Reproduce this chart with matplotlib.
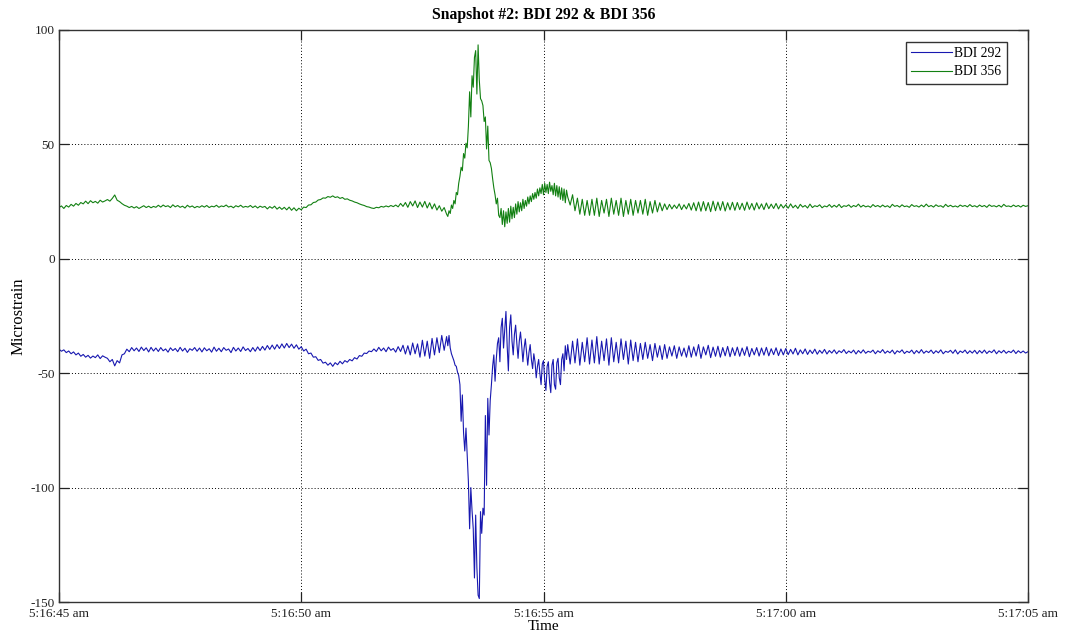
import numpy as np
import matplotlib
matplotlib.use("Agg")
import matplotlib.pyplot as plt

# ---------------- data (seconds after 5:16:45, microstrain) ----------------
# segment A: t = 0 .. 7.95 s, step 0.05 s
bdi356_a = [
    22.4, 23.1, 22.0, 23.3, 22.6, 23.8, 23.0, 24.2, 23.4, 24.6, 24.0, 25.2, 24.1, 25.4, 24.5, 25.1, 24.3, 25.6, 24.8, 25.3,
    25.9, 25.2, 26.4, 27.9, 25.6, 25.0, 24.1, 23.4, 23.0, 22.4, 22.9, 22.2, 22.8, 22.0, 22.6, 23.2, 22.4, 23.0, 22.3, 22.9,
    22.5, 23.4, 22.6, 23.5, 22.8, 23.2, 22.4, 23.6, 22.7, 23.3, 22.5, 23.0, 22.2, 23.4, 22.6, 23.1, 22.3, 22.9, 22.5, 23.2,
    22.6, 23.3, 22.4, 23.0, 22.7, 23.4, 22.5, 23.1, 22.8, 23.5, 22.6, 23.0, 22.3, 23.2, 22.7, 23.4, 22.5, 22.9, 22.6, 23.3,
    22.4, 23.1, 22.2, 23.0, 22.5, 22.9, 21.8, 22.8, 22.1, 23.0, 21.7, 22.6, 21.6, 22.5, 21.4, 22.6, 21.2, 22.3, 21.0, 22.1,
    21.4, 22.6, 22.4, 23.5, 23.6, 24.6, 24.8, 25.7, 25.9, 26.6, 26.5, 27.2, 26.9, 27.5, 26.8, 27.1, 26.4, 26.8, 26.0, 26.2,
    25.6, 25.3, 24.8, 24.5, 24.0, 23.6, 23.3, 22.8, 22.6, 22.2, 22.0, 22.5, 22.3, 22.9, 22.6, 23.1, 22.7, 23.3, 22.8, 23.5,
    22.7, 24.2, 22.9, 24.6, 22.5, 25.0, 23.1, 25.3, 22.4, 24.8, 22.6, 25.1, 22.2, 24.5, 21.8, 24.0, 21.3, 23.2, 20.8, 22.4,
]
bdi292_a = [
    -39.5, -40.4, -39.8, -41.0, -40.3, -41.5, -40.7, -42.0, -41.2, -42.6, -41.8, -43.0, -42.2, -43.4, -42.5, -43.2, -42.0, -43.6, -42.4, -43.0,
    -43.5, -45.0, -44.0, -46.8, -44.5, -45.5, -42.0, -41.5, -39.5, -40.6, -38.8, -40.2, -39.0, -40.5, -38.6, -40.1, -38.9, -40.7, -38.7, -40.3,
    -39.0, -40.5, -38.8, -40.2, -39.4, -40.8, -38.9, -40.1, -39.2, -40.6, -38.7, -40.3, -39.1, -40.9, -39.3, -40.0, -38.8, -40.4, -39.0, -40.7,
    -38.9, -40.2, -39.3, -40.8, -38.6, -40.4, -39.1, -40.6, -38.8, -40.0, -39.4, -41.0, -38.7, -40.3, -39.0, -40.5, -38.5, -40.1, -39.2, -40.6,
    -38.8, -40.4, -38.5, -40.1, -38.3, -39.9, -37.9, -39.6, -37.7, -39.5, -37.5, -39.2, -37.2, -39.0, -37.0, -38.8, -37.3, -39.1, -37.6, -39.5,
    -38.4, -40.3, -39.5, -41.5, -41.2, -43.0, -42.8, -44.4, -44.0, -45.6, -45.2, -46.5, -45.5, -47.0, -45.4, -46.3, -44.8, -45.9, -44.5, -45.2,
    -44.0, -44.6, -43.2, -43.8, -42.3, -42.6, -41.2, -41.4, -40.3, -40.6, -39.4, -40.5, -38.7, -40.2, -39.0, -40.6, -38.6, -40.0, -39.2, -40.8,
    -38.4, -40.5, -37.8, -41.6, -38.0, -42.0, -36.8, -41.5, -37.2, -43.0, -35.6, -42.5, -36.0, -43.5, -34.8, -42.0, -34.5, -41.0, -33.5, -40.0,
]

# segment B: t = 8.000 .. 10.475 s, step 0.025 s (the event)
bdi356_b = [
    19.5, 18.5, 21.0, 19.8, 23.5, 22.0, 25.5, 24.0, 29.0, 28.0,
    33.0, 36.0, 40.0, 38.5, 46.0, 44.0, 50.5, 48.5, 58.0, 73.0,
    62.0, 80.0, 75.0, 88.0, 91.0, 72.0, 93.5, 78.0, 70.0, 69.0,
    67.0, 60.0, 62.0, 48.0, 58.0, 43.0, 42.0, 39.5, 35.0, 31.0,
    28.0, 24.0, 26.5, 19.0, 18.0, 22.0, 15.0, 21.0, 14.0, 20.5,
    15.5, 22.0, 16.0, 23.0, 17.5, 22.5, 18.0, 24.0, 19.5, 25.0,
    20.5, 24.5, 21.0, 26.0, 22.0, 25.5, 23.0, 27.0, 24.0, 27.5,
    25.0, 28.5, 26.0, 29.0, 26.5, 30.5, 27.5, 31.0, 28.5, 32.5,
    28.0, 33.0, 29.0, 32.5, 28.5, 33.5, 29.5, 32.0, 28.0, 33.0,
    27.5, 32.0, 27.0, 31.5, 26.0, 31.0, 25.5, 30.5, 24.5, 30.0,
]
bdi292_b = [
    -34.0, -38.0, -33.5, -39.0, -41.5, -43.0, -44.5, -46.5, -47.0, -49.5,
    -51.0, -55.0, -71.0, -59.5, -76.0, -84.0, -74.0, -86.0, -97.5, -118.0,
    -100.0, -110.0, -118.0, -139.5, -112.0, -135.0, -147.0, -148.5, -110.5, -120.0,
    -109.0, -112.0, -68.5, -99.0, -61.0, -77.0, -62.0, -55.0, -47.0, -42.0,
    -53.5, -44.0, -37.0, -34.5, -45.0, -30.0, -26.0, -39.0, -31.0, -23.0,
    -38.0, -49.0, -30.0, -24.5, -36.0, -42.0, -33.0, -29.0, -37.0, -43.5,
    -36.0, -32.0, -38.0, -45.0, -39.0, -35.0, -40.5, -46.5, -41.0, -37.5,
    -44.0, -48.0, -41.5, -45.0, -52.0, -47.0, -44.0, -50.0, -55.0, -46.0,
    -44.5, -53.0, -57.5, -47.0, -45.0, -54.0, -58.5, -46.5, -44.0, -55.0,
    -57.0, -45.5, -43.5, -52.0, -55.0, -44.0, -41.5, -49.0, -38.0, -44.0,
]

# segment C: t = 10.5 .. 20.0 s, step 0.05 s
bdi356_c = [
    27.0, 23.5, 28.0, 21.0, 26.5, 19.5, 26.0, 19.0, 25.5, 19.0,
    26.0, 19.0, 26.5, 18.5, 25.5, 20.0, 26.0, 18.5, 26.5, 19.5, 25.5, 19.0, 26.5, 18.5, 25.5, 19.5, 26.0, 19.0, 25.5, 20.0,
    25.5, 19.5, 26.0, 19.0, 25.0, 20.0, 25.5, 20.5, 24.5, 21.0, 24.0, 21.5, 23.8, 21.8, 23.5, 22.0, 24.0, 21.5, 23.6, 21.8,
    24.2, 21.3, 24.5, 21.0, 24.8, 20.8, 25.0, 21.0, 24.6, 20.6, 25.2, 21.0, 24.8, 21.2, 25.0, 20.9, 24.5, 21.4, 24.7, 21.2,
    24.6, 21.5, 24.3, 21.2, 24.8, 21.6, 24.2, 21.3, 24.5, 21.8, 24.0, 21.5, 24.4, 21.9, 23.9, 22.0, 24.2, 21.8, 23.8, 22.2,
    23.6, 22.1, 24.0, 22.3, 23.4, 22.0, 23.8, 22.6, 23.3, 22.2, 23.9, 22.4, 23.2, 22.8, 23.6, 22.3, 23.1, 22.7, 23.7, 22.5,
    23.4, 22.6, 23.8, 22.4, 23.2, 22.9, 23.6, 22.5, 23.3, 22.8, 23.9, 22.6, 23.4, 22.7, 23.1, 22.5, 23.7, 22.8, 23.3, 22.6,
    23.5, 22.7, 23.2, 22.4, 23.8, 22.9, 23.3, 22.6, 23.6, 22.8, 23.1, 22.5, 23.7, 22.9, 23.2, 22.6, 23.5, 22.7, 23.9, 22.8,
    23.3, 22.6, 23.6, 22.9, 23.2, 22.5, 23.8, 22.8, 23.4, 22.7, 23.1, 22.6, 23.5, 22.9, 23.3, 22.7, 23.7, 22.8, 23.2, 22.6,
    23.5, 22.8, 23.3, 22.5, 23.6, 22.9, 23.2, 22.7, 23.4, 22.6, 23.8, 22.9, 23.1, 22.7, 23.5, 22.8, 23.3, 22.6, 23.4, 22.9,
    23.2,
]
bdi292_c = [
    -37.5, -46.0, -36.0, -45.5, -35.0, -46.5, -36.5, -45.0, -34.5, -46.0,
    -35.5, -45.5, -34.0, -46.0, -36.0, -44.5, -35.0, -46.5, -34.5, -45.0, -36.5, -45.5, -35.0, -44.0, -36.0, -46.0, -35.5, -44.5, -36.5, -45.0,
    -37.0, -44.0, -36.5, -43.5, -37.5, -44.5, -37.0, -43.0, -38.0, -44.0, -37.5, -43.5, -38.5, -42.5, -38.0, -43.5, -38.5, -42.5, -39.0, -43.0,
    -38.0, -43.0, -38.5, -42.5, -37.5, -43.5, -38.5, -42.0, -37.8, -43.2, -38.6, -42.6, -38.2, -43.0, -38.8, -42.4, -38.3, -42.8, -38.9, -42.3,
    -38.6, -42.6, -39.0, -42.2, -38.4, -42.8, -39.2, -42.0, -38.8, -42.5, -39.0, -42.1, -38.7, -42.4, -39.3, -41.9, -38.9, -42.3, -39.4, -42.0,
    -39.2, -41.9, -39.6, -41.6, -39.1, -42.0, -39.8, -41.5, -39.4, -41.8, -39.9, -41.4, -39.5, -41.7, -40.0, -41.3, -39.6, -41.6, -40.1, -41.2,
    -39.8, -41.5, -40.2, -41.0, -39.7, -41.4, -40.3, -41.1, -39.9, -41.6, -40.1, -41.2, -39.8, -41.3, -40.4, -40.9, -39.9, -41.5, -40.2, -41.0,
    -39.7, -41.3, -40.3, -41.1, -39.9, -41.6, -40.2, -40.9, -39.8, -41.4, -40.4, -41.0, -39.9, -41.5, -40.1, -41.2, -39.7, -41.3, -40.3, -41.0,
    -39.9, -41.4, -40.2, -41.1, -39.8, -41.5, -40.4, -40.9, -40.0, -41.3, -39.8, -41.6, -40.3, -41.0, -39.9, -41.4, -40.2, -41.2, -40.0, -41.5,
    -40.1, -41.2, -39.9, -41.4, -40.3, -41.0, -39.8, -41.5, -40.2, -41.1, -40.0, -41.3, -40.4, -41.0, -39.9, -41.4, -40.2, -41.1, -40.3, -41.2,
    -40.6,
]

series_labels = ["BDI 292", "BDI 356"]
x_tick_secs = [0, 5, 10, 15, 20]
x_tick_labels = ["5:16:45 am", "5:16:50 am", "5:16:55 am", "5:17:00 am", "5:17:05 am"]
y_ticks = [-150, -100, -50, 0, 50, 100]

# sample times for each segment
t_a = np.arange(len(bdi356_a)) * 0.05
t_b = 8.0 + np.arange(len(bdi356_b)) * 0.025
t_c = 10.5 + np.arange(len(bdi356_c)) * 0.05
t = np.concatenate([t_a, t_b, t_c])
g = np.concatenate([bdi356_a, bdi356_b, bdi356_c])
b = np.concatenate([bdi292_a, bdi292_b, bdi292_c])

# ---------------- plot ----------------
plt.rcParams["font.family"] = ["Liberation Serif", "DejaVu Serif"]
plt.rcParams["axes.unicode_minus"] = False

fig = plt.figure(figsize=(10.65, 6.44), dpi=100)
ax = fig.add_axes([59 / 1065, 1 - 602 / 644, (1028 - 59) / 1065, (602 - 30) / 644])

ax.plot(t, b, color="#1818b0", lw=0.8, label=series_labels[0])
ax.plot(t, g, color="#128012", lw=0.8, label=series_labels[1])

ax.set_xlim(0, 20)
ax.set_ylim(-150, 100)
ax.set_xticks(x_tick_secs)
ax.set_xticklabels(x_tick_labels)
ax.set_yticks(y_ticks)

ax.grid(True, color="black", linestyle=(0, (1, 2.2)), linewidth=0.7)
ax.tick_params(direction="in", length=7, width=0.9, top=True, right=True,
               labelsize=9.5, colors="#222222", labelcolor="#222222")
ax.tick_params(axis="x", pad=4)
ax.tick_params(axis="y", pad=3)
for s in ax.spines.values():
    s.set_linewidth(1.0)
    s.set_color("#333333")

ax.set_title("Snapshot #2: BDI 292 & BDI 356", fontsize=11.3, fontweight="bold", pad=8)
ax.set_xlabel("Time", fontsize=11, labelpad=0)
ax.set_ylabel("Microstrain", fontsize=12, labelpad=3)

leg = ax.legend(loc="upper right", bbox_to_anchor=(0.978, 0.979), fontsize=9.8,
                fancybox=False, edgecolor="#333333", framealpha=1,
                handlelength=3.0, handletextpad=0.15, borderpad=0.38,
                labelspacing=0.38, borderaxespad=0)
leg.get_frame().set_linewidth(1.0)
for ln in leg.get_lines():
    ln.set_linewidth(0.8)

fig.savefig("out.png", dpi=100)
